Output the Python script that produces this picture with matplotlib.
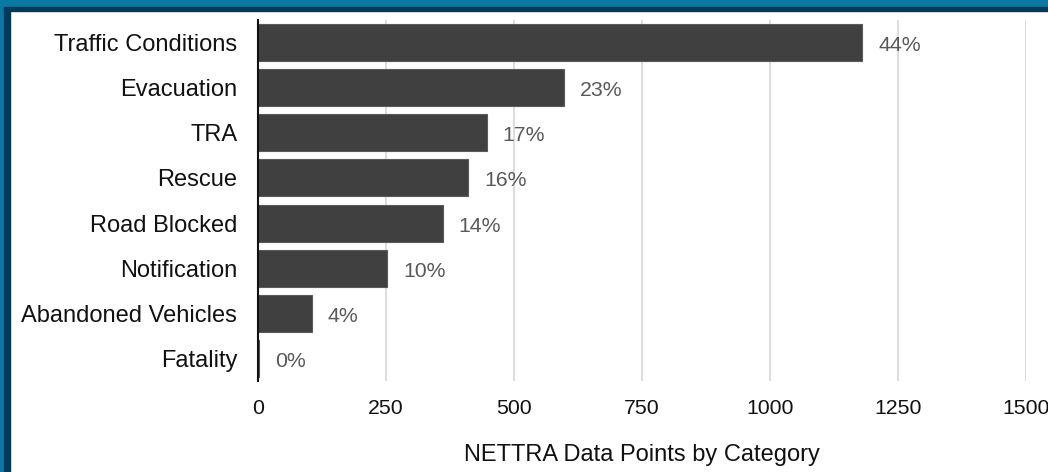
import matplotlib
matplotlib.use("Agg")
import matplotlib.pyplot as plt
from matplotlib.patches import Rectangle

categories = ["Traffic Conditions", "Evacuation", "TRA", "Rescue", "Road Blocked",
              "Notification", "Abandoned Vehicles", "Fatality"]
values = [1180, 598, 447, 410, 361, 252, 105, 2]
pct_labels = ["44%", "23%", "17%", "16%", "14%", "10%", "4%", "0%"]
x_ticks = [0, 250, 500, 750, 1000, 1250, 1500]
x_label = "NETTRA Data Points by Category"

plt.rcParams['font.family'] = ['Liberation Sans', 'DejaVu Sans']

fig = plt.figure(figsize=(10.48, 4.72), dpi=100)
fig.patch.set_facecolor("white")
W, H = 1048, 472
# frame
fig.patches.append(Rectangle((0, 0), 4 / W, 1, transform=fig.transFigure, color="#0b78a3", zorder=0))
fig.patches.append(Rectangle((4 / W, 0), 6 / W, 1, transform=fig.transFigure, color="#003b5e", zorder=0))
fig.patches.append(Rectangle((0, 1 - 7 / H), 1, 7 / H, transform=fig.transFigure, color="#0b78a3", zorder=0))
fig.patches.append(Rectangle((4 / W, 1 - 11 / H), 1 - 4 / W, 4 / H, transform=fig.transFigure, color="#003b5e", zorder=0))

ax = fig.add_axes([258 / W, 1 - 381 / H, (1026 - 258) / W, (381 - 20) / H])
y = list(range(len(categories)))
ax.barh(y, values, height=0.82, color="#404040", edgecolor="#5a5a5a", linewidth=0.8, zorder=3)
for yi, v, lab in zip(y, values, pct_labels):
    ax.annotate(lab, (v, yi), xytext=(16, -3), textcoords="offset pixels",
                va="center", ha="left", fontsize=15.3, color="#595959")

ax.set_ylim(len(categories) - 0.5, -0.5)
ax.set_xlim(0, 1500)
ax.set_yticks(y)
ax.set_yticklabels(categories, fontsize=17, color="#111111")
ax.set_xticks(x_ticks)
ax.set_xticklabels([str(t) for t in x_ticks], fontsize=15.3, color="#111111")
ax.tick_params(axis="both", length=0)
ax.tick_params(axis="y", pad=15)
ax.tick_params(axis="x", pad=13)
for s in ["top", "right", "bottom"]:
    ax.spines[s].set_visible(False)
ax.spines["left"].set_color("#111111")
ax.spines["left"].set_linewidth(1.5)
ax.spines["left"].set_zorder(4)
for t in x_ticks[1:]:
    ax.axvline(t, color="#d9d9d9", linewidth=1.3, zorder=1)
ax.set_xlabel(x_label, fontsize=17, color="#111111", labelpad=19)

fig.savefig("out.png", dpi=100, facecolor="white")
